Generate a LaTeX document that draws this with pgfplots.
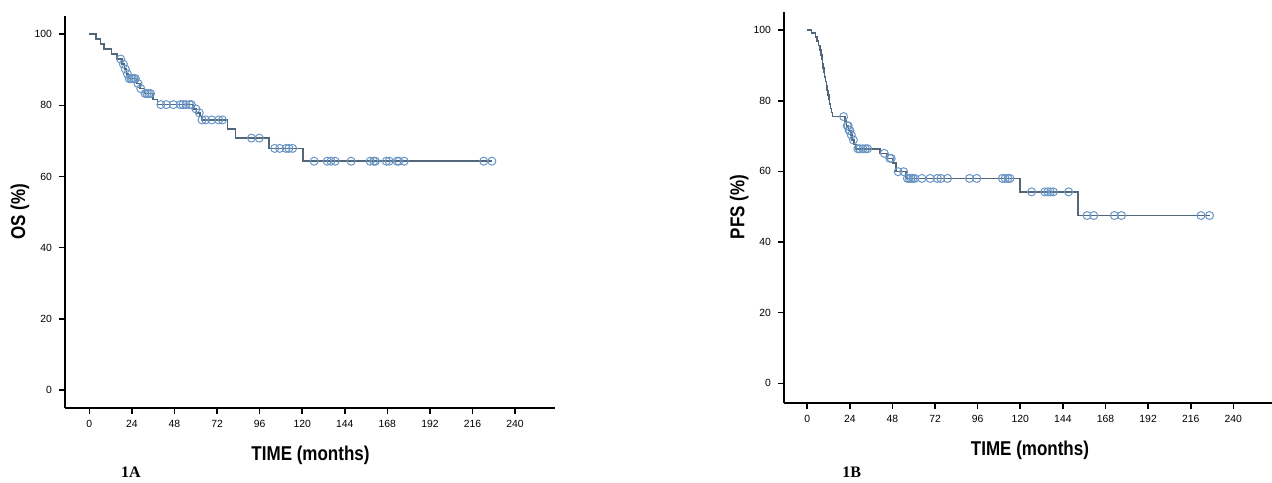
\documentclass[border=0pt]{standalone}
\usepackage{fontspec}
\setmainfont{Liberation Sans}
\newfontfamily\labfont[FakeStretch=0.85]{Liberation Sans}
\newfontfamily\capfont{Liberation Serif}
\usepackage{pgfplots}
\pgfplotsset{compat=1.18}
\definecolor{kmline}{HTML}{526779}
\definecolor{kmcens}{HTML}{6A96C6}

\pgfplotsset{
  km/.style={
    scale only axis,
    axis x line*=bottom, axis y line*=left,
    axis line style={-,line width=1pt,black},
    tick align=outside, major tick length=3pt,
    tick style={line width=0.8pt,black},
    xtick={0,24,...,240}, ytick={0,20,...,100},
    tick label style={font=\fontsize{5.2}{6}\selectfont},
    /pgf/number format/assume math mode=true,
    label style={font=\labfont\bfseries\fontsize{10}{12}\selectfont},
    clip=false,
  },
  kmstep/.style={const plot, no marks, draw=kmline, line width=0.75pt},
  kmcen/.style={only marks, mark=o, mark size=2pt,
    mark options={draw=kmcens, line width=0.5pt}},
}

\begin{document}
\begin{tikzpicture}
\useasboundingbox (0,0) rectangle (636pt,241pt);

% 1A overall survival
\begin{axis}[km,
  at={(32.5pt,37.25pt)}, anchor=south west,
  width=245pt, height=195.75pt,
  xmin=-13.7, xmax=262.5, ymin=-4.9, ymax=105.1,
  xlabel={TIME (months)}, ylabel={OS (\%)},
  xlabel style={at={(axis description cs:0.501,-0.1213)}, anchor=center},
  ylabel style={at={(axis description cs:-0.092,0.5)}, anchor=center},
]
\addplot[kmstep] coordinates {
  (0,100) (3.8,98.6) (6.2,97.2) (8.3,95.8) (12.5,94.4) (15.5,93.0)
  (18.5,91.6) (19.8,90.2) (21,88.8) (22,87.5) (27,86.1) (28.5,84.7)
  (31,83.3) (36,81.6) (38.5,80.2) (58.5,79.0) (60.5,77.9) (62.5,76.8)
  (63.5,75.9) (78,73.4) (82.5,70.8) (101.3,67.9) (120.5,64.3) (227,64.3)
};
\addplot[kmcen] coordinates {
  (17.7,93.0) (19.2,91.6) (20.3,90.2) (21.5,88.8) (22.5,87.5) (23.5,87.5)
  (24.3,87.5) (25.2,87.5) (26,87.5) (27.5,86.1) (29,84.7) (31.5,83.3)
  (32.5,83.3) (33.5,83.3) (34.5,83.3)
  (40.3,80.2) (43.4,80.2) (47.4,80.2) (51.4,80.2) (52.8,80.2) (54.5,80.2)
  (56.5,80.2) (57.5,80.2) (60.1,79.0) (62,77.9)
  (63.5,75.9) (65.6,75.9) (69,75.9) (73,75.9) (75,75.9)
  (91.4,70.8) (95.8,70.8)
  (104.5,67.9) (107.3,67.9) (110.9,67.9) (112.5,67.9) (114.6,67.9)
  (126.7,64.3) (134.1,64.3) (136.2,64.3) (138.6,64.3) (147.6,64.3)
  (158.3,64.3) (160.3,64.3) (161.3,64.3) (167.4,64.3) (169,64.3)
  (173.5,64.3) (174.5,64.3) (177.5,64.3) (222.3,64.3) (226.9,64.3)
};
\end{axis}

% 1B progression-free survival
\begin{axis}[km,
  at={(392pt,39.75pt)}, anchor=south west,
  width=244pt, height=195.4pt,
  xmin=-13.1, xmax=261.8, ymin=-5.43, ymax=105.2,
  xlabel={TIME (months)}, ylabel={PFS (\%)},
  xlabel style={at={(axis description cs:0.504,-0.1215)}, anchor=center},
  ylabel style={at={(axis description cs:-0.092,0.5)}, anchor=center},
]
\addplot[kmstep] coordinates {
  (0,100) (2.5,99.1) (4.5,98.1) (5.5,96.9) (6.3,95.6) (7.2,94.3)
  (7.8,93.0) (8.2,91.8) (8.6,90.5) (9.0,89.2) (9.4,88.0) (9.8,86.7)
  (10.2,85.4) (10.7,84.2) (11.1,82.9) (11.6,81.6) (12.1,80.4) (12.6,79.1)
  (13.1,77.8) (13.7,76.6) (14.3,75.5) (21.3,74.2) (22.2,72.9) (23.3,71.6)
  (24.5,70.3) (25.3,68.9) (26.3,67.6) (27.5,66.4) (41,65.1) (45,63.7)
  (48.2,62.3) (50,59.9) (55.5,58.0) (119.8,54.2) (152.4,47.5) (226.6,47.5)
};
\addplot[kmcen] coordinates {
  (20.5,75.5) (22.5,72.9) (23,72.9) (23.6,71.6) (24,71.6) (24.8,70.3)
  (26,68.9) (28.5,66.4) (29.5,66.4) (31.3,66.4) (32.8,66.4) (34,66.4)
  (43.4,65.1) (46.5,63.7) (47.3,63.7) (51.2,59.9) (54.3,59.9)
  (56.4,58.0) (57.5,58.0) (58.5,58.0) (59.5,58.0) (60.5,58.0) (64.6,58.0)
  (69.2,58.0) (73.3,58.0) (75.3,58.0) (79,58.0) (91.4,58.0) (95.5,58.0)
  (109.9,58.0) (111.5,58.0) (113,58.0) (114.2,58.0)
  (126.4,54.2) (133.8,54.2) (135.5,54.2) (137,54.2) (138.6,54.2) (147.2,54.2)
  (157.6,47.5) (161.4,47.5) (173,47.5) (177,47.5) (221.8,47.5) (226.6,47.5)
};
\end{axis}

\node[font=\capfont\bfseries\fontsize{8}{9}\selectfont] at (65.5pt,4.8pt) {1A};
\node[font=\capfont\bfseries\fontsize{8}{9}\selectfont] at (425.8pt,4.8pt) {1B};
\end{tikzpicture}
\end{document}
